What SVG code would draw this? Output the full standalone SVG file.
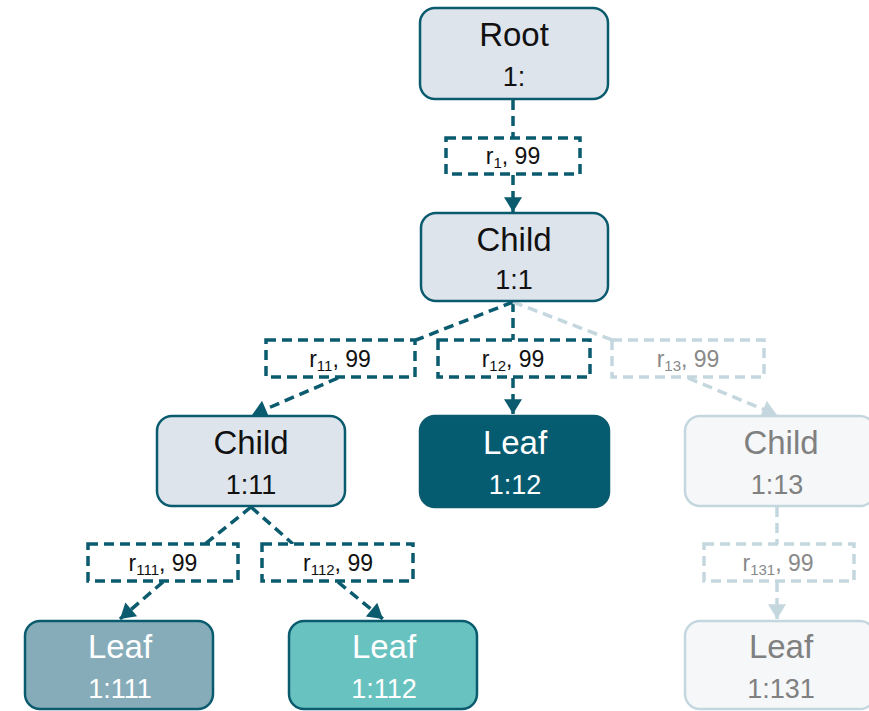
<svg xmlns="http://www.w3.org/2000/svg" width="869" height="711" viewBox="0 0 869 711">
<style>
.node{stroke:#0b5b6f;stroke-width:2.5}
.child{fill:#dee4ec}
.faded{fill:#f5f7f9;stroke:#c4d7de}
.name{font-family:"Liberation Sans",Arial,sans-serif;font-size:33px;text-anchor:middle}
.id{font-family:"Liberation Sans",Arial,sans-serif;font-size:27px;text-anchor:middle}
.dark{fill:#111}
.white{fill:#fff}
.grey{fill:#808080}
.lbox{fill:#fff;stroke:#0b5b6f;stroke-width:3.5;stroke-dasharray:10 6}
.lbox.l{stroke:#c4d7de}
.ltxt{font-family:"Liberation Sans",Arial,sans-serif;font-size:23px;text-anchor:middle;fill:#111}
.ltxt.l{fill:#8a8a8a}
.sub{font-size:15px}
.edge{fill:none;stroke:#0b5b6f;stroke-width:3.5;stroke-dasharray:10 6}
.edge.l{stroke:#c4d7de}
</style>
<defs>
<marker id="ad" markerUnits="userSpaceOnUse" markerWidth="18" markerHeight="18" viewBox="0 0 14 17" refX="14" refY="8.5" orient="auto"><path d="M0,0 L14,8.5 L0,17 z" fill="#0b5b6f"/></marker>
<marker id="al" markerUnits="userSpaceOnUse" markerWidth="18" markerHeight="18" viewBox="0 0 14 17" refX="14" refY="8.5" orient="auto"><path d="M0,0 L14,8.5 L0,17 z" fill="#c4d7de"/></marker>
</defs>
<g id="connectors">
<path class="edge" d="M513,100 L513,138"/>
<path class="edge" d="M513,175 L513,212" marker-end="url(#ad)"/>
<path class="edge" d="M513,302 L416,340"/>
<path class="edge" d="M513,302 L513,340"/>
<path class="edge l" d="M513,302 L612,340"/>
<path class="edge" d="M338,378 L252,415" marker-end="url(#ad)"/>
<path class="edge" d="M513,378 L513,414" marker-end="url(#ad)"/>
<path class="edge l" d="M688,378 L777,415" marker-end="url(#al)"/>
<path class="edge" d="M251,507 L205,544"/>
<path class="edge" d="M251,507 L293,544"/>
<path class="edge" d="M163,582 L120,619" marker-end="url(#ad)"/>
<path class="edge" d="M338,582 L383,619" marker-end="url(#ad)"/>
<path class="edge l" d="M777,507 L777,544"/>
<path class="edge l" d="M777,582 L777,619" marker-end="url(#al)"/>
</g>
<g id="labels">
<g id="label-r1"><rect class="lbox" x="446" y="138" width="134" height="36"/><text class="ltxt" x="513" y="164">r<tspan class="sub" dy="4">1</tspan><tspan dy="-4">, 99</tspan></text></g>
<g id="label-r11"><rect class="lbox" x="266" y="340" width="149" height="37"/><text class="ltxt" x="340" y="367">r<tspan class="sub" dy="4">11</tspan><tspan dy="-4">, 99</tspan></text></g>
<g id="label-r12"><rect class="lbox" x="438" y="340" width="152" height="37"/><text class="ltxt" x="513" y="367">r<tspan class="sub" dy="4">12</tspan><tspan dy="-4">, 99</tspan></text></g>
<g id="label-r13"><rect class="lbox l" x="612" y="340" width="152" height="37"/><text class="ltxt l" x="688" y="367">r<tspan class="sub" dy="4">13</tspan><tspan dy="-4">, 99</tspan></text></g>
<g id="label-r111"><rect class="lbox" x="88" y="544" width="150" height="37"/><text class="ltxt" x="163" y="571">r<tspan class="sub" dy="4">111</tspan><tspan dy="-4">, 99</tspan></text></g>
<g id="label-r112"><rect class="lbox" x="262" y="544" width="151" height="37"/><text class="ltxt" x="338" y="571">r<tspan class="sub" dy="4">112</tspan><tspan dy="-4">, 99</tspan></text></g>
<g id="label-r131"><rect class="lbox l" x="704" y="544" width="150" height="37"/><text class="ltxt l" x="778" y="571">r<tspan class="sub" dy="4">131</tspan><tspan dy="-4">, 99</tspan></text></g>
</g>
<g id="root"><rect class="node child" x="420" y="8" width="188" height="91" rx="15"/><text class="name dark" x="514" y="46">Root</text><text class="id dark" x="514" y="86">1:</text></g>
<g id="child-1-1"><rect class="node child" x="421" y="213" width="187" height="88" rx="15"/><text class="name dark" x="514" y="251">Child</text><text class="id dark" x="514" y="289">1:1</text></g>
<g id="child-1-11"><rect class="node child" x="157" y="416" width="188" height="90" rx="15"/><text class="name dark" x="251" y="454">Child</text><text class="id dark" x="251" y="494">1:11</text></g>
<g id="leaf-1-12"><rect class="node" fill="#055b6f" x="420" y="416" width="189" height="91" rx="15"/><text class="name white" x="515" y="454">Leaf</text><text class="id white" x="515" y="494">1:12</text></g>
<g id="child-1-13"><rect class="node faded" x="685" y="416" width="190" height="90" rx="15"/><text class="name grey" x="781" y="454">Child</text><text class="id grey" x="777" y="494">1:13</text></g>
<g id="leaf-1-111"><rect class="node" fill="#87acb9" x="25" y="621" width="188" height="88" rx="15"/><text class="name white" x="120" y="658">Leaf</text><text class="id white" x="120" y="698">1:111</text></g>
<g id="leaf-1-112"><rect class="node" fill="#68c2c0" x="289" y="621" width="188" height="88" rx="15"/><text class="name white" x="384" y="658">Leaf</text><text class="id white" x="384" y="698">1:112</text></g>
<g id="leaf-1-131"><rect class="node faded" x="685" y="621" width="190" height="88" rx="15"/><text class="name grey" x="781" y="658">Leaf</text><text class="id grey" x="781" y="698">1:131</text></g>
</svg>
